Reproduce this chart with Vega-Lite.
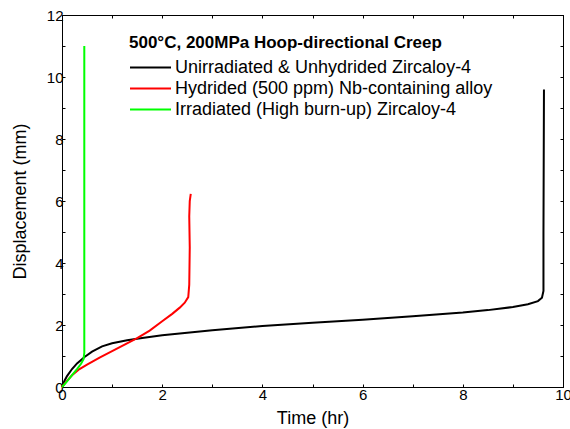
{
  "$schema": "https://vega.github.io/schema/vega-lite/v6.json",
  "autosize": {"type": "none"},
  "padding": {"left": 62, "top": 15, "right": 7, "bottom": 42},
  "width": 501,
  "height": 372,
  "background": "white",
  "config": {
    "view": {"stroke": "black", "strokeWidth": 1},
    "font": "Liberation Sans",
    "axis": {"grid": false, "domainColor": "black", "tickColor": "black", "labelColor": "black", "titleColor": "black", "labelFont": "Liberation Sans", "titleFont": "Liberation Sans", "labelFontSize": 15, "titleFontSize": 18, "titleFontWeight": "normal", "tickSize": -3}
  },
  "data": {"values": [
    {"s": "Unirradiated & Unhydrided Zircaloy-4", "o": 1, "t": 0, "d": 0},
    {"s": "Unirradiated & Unhydrided Zircaloy-4", "o": 2, "t": 0.05, "d": 0.2},
    {"s": "Unirradiated & Unhydrided Zircaloy-4", "o": 3, "t": 0.1, "d": 0.35},
    {"s": "Unirradiated & Unhydrided Zircaloy-4", "o": 4, "t": 0.2, "d": 0.58},
    {"s": "Unirradiated & Unhydrided Zircaloy-4", "o": 5, "t": 0.3, "d": 0.76},
    {"s": "Unirradiated & Unhydrided Zircaloy-4", "o": 6, "t": 0.45, "d": 0.97},
    {"s": "Unirradiated & Unhydrided Zircaloy-4", "o": 7, "t": 0.6, "d": 1.14},
    {"s": "Unirradiated & Unhydrided Zircaloy-4", "o": 8, "t": 0.8, "d": 1.31},
    {"s": "Unirradiated & Unhydrided Zircaloy-4", "o": 9, "t": 1.0, "d": 1.41},
    {"s": "Unirradiated & Unhydrided Zircaloy-4", "o": 10, "t": 1.3, "d": 1.51},
    {"s": "Unirradiated & Unhydrided Zircaloy-4", "o": 11, "t": 1.6, "d": 1.58},
    {"s": "Unirradiated & Unhydrided Zircaloy-4", "o": 12, "t": 2.0, "d": 1.67},
    {"s": "Unirradiated & Unhydrided Zircaloy-4", "o": 13, "t": 3.0, "d": 1.83},
    {"s": "Unirradiated & Unhydrided Zircaloy-4", "o": 14, "t": 4.0, "d": 1.97},
    {"s": "Unirradiated & Unhydrided Zircaloy-4", "o": 15, "t": 5.0, "d": 2.07},
    {"s": "Unirradiated & Unhydrided Zircaloy-4", "o": 16, "t": 6.0, "d": 2.17},
    {"s": "Unirradiated & Unhydrided Zircaloy-4", "o": 17, "t": 7.0, "d": 2.28},
    {"s": "Unirradiated & Unhydrided Zircaloy-4", "o": 18, "t": 8.0, "d": 2.4},
    {"s": "Unirradiated & Unhydrided Zircaloy-4", "o": 19, "t": 8.5, "d": 2.48},
    {"s": "Unirradiated & Unhydrided Zircaloy-4", "o": 20, "t": 9.0, "d": 2.58},
    {"s": "Unirradiated & Unhydrided Zircaloy-4", "o": 21, "t": 9.3, "d": 2.67},
    {"s": "Unirradiated & Unhydrided Zircaloy-4", "o": 22, "t": 9.5, "d": 2.77},
    {"s": "Unirradiated & Unhydrided Zircaloy-4", "o": 23, "t": 9.58, "d": 2.88},
    {"s": "Unirradiated & Unhydrided Zircaloy-4", "o": 24, "t": 9.61, "d": 3.1},
    {"s": "Unirradiated & Unhydrided Zircaloy-4", "o": 25, "t": 9.61, "d": 5.0},
    {"s": "Unirradiated & Unhydrided Zircaloy-4", "o": 26, "t": 9.62, "d": 9.6},
    {"s": "Hydrided (500 ppm) Nb-containing alloy", "o": 1, "t": 0, "d": 0},
    {"s": "Hydrided (500 ppm) Nb-containing alloy", "o": 2, "t": 0.1, "d": 0.2},
    {"s": "Hydrided (500 ppm) Nb-containing alloy", "o": 3, "t": 0.2, "d": 0.38},
    {"s": "Hydrided (500 ppm) Nb-containing alloy", "o": 4, "t": 0.35, "d": 0.58},
    {"s": "Hydrided (500 ppm) Nb-containing alloy", "o": 5, "t": 0.5, "d": 0.72},
    {"s": "Hydrided (500 ppm) Nb-containing alloy", "o": 6, "t": 0.75, "d": 0.95},
    {"s": "Hydrided (500 ppm) Nb-containing alloy", "o": 7, "t": 1.0, "d": 1.16},
    {"s": "Hydrided (500 ppm) Nb-containing alloy", "o": 8, "t": 1.25, "d": 1.37},
    {"s": "Hydrided (500 ppm) Nb-containing alloy", "o": 9, "t": 1.5, "d": 1.58},
    {"s": "Hydrided (500 ppm) Nb-containing alloy", "o": 10, "t": 1.75, "d": 1.82},
    {"s": "Hydrided (500 ppm) Nb-containing alloy", "o": 11, "t": 2.0, "d": 2.12},
    {"s": "Hydrided (500 ppm) Nb-containing alloy", "o": 12, "t": 2.2, "d": 2.36},
    {"s": "Hydrided (500 ppm) Nb-containing alloy", "o": 13, "t": 2.35, "d": 2.56},
    {"s": "Hydrided (500 ppm) Nb-containing alloy", "o": 14, "t": 2.45, "d": 2.72},
    {"s": "Hydrided (500 ppm) Nb-containing alloy", "o": 15, "t": 2.52, "d": 2.9},
    {"s": "Hydrided (500 ppm) Nb-containing alloy", "o": 16, "t": 2.54, "d": 3.3},
    {"s": "Hydrided (500 ppm) Nb-containing alloy", "o": 17, "t": 2.55, "d": 4.5},
    {"s": "Hydrided (500 ppm) Nb-containing alloy", "o": 18, "t": 2.54, "d": 5.5},
    {"s": "Hydrided (500 ppm) Nb-containing alloy", "o": 19, "t": 2.55, "d": 6.0},
    {"s": "Hydrided (500 ppm) Nb-containing alloy", "o": 20, "t": 2.57, "d": 6.23},
    {"s": "Irradiated (High burn-up) Zircaloy-4", "o": 1, "t": 0, "d": 0},
    {"s": "Irradiated (High burn-up) Zircaloy-4", "o": 2, "t": 0.1, "d": 0.18},
    {"s": "Irradiated (High burn-up) Zircaloy-4", "o": 3, "t": 0.2, "d": 0.38},
    {"s": "Irradiated (High burn-up) Zircaloy-4", "o": 4, "t": 0.3, "d": 0.58},
    {"s": "Irradiated (High burn-up) Zircaloy-4", "o": 5, "t": 0.38, "d": 0.75},
    {"s": "Irradiated (High burn-up) Zircaloy-4", "o": 6, "t": 0.43, "d": 0.9},
    {"s": "Irradiated (High burn-up) Zircaloy-4", "o": 7, "t": 0.445, "d": 1.1},
    {"s": "Irradiated (High burn-up) Zircaloy-4", "o": 8, "t": 0.445, "d": 3.0},
    {"s": "Irradiated (High burn-up) Zircaloy-4", "o": 9, "t": 0.445, "d": 11.0}
  ]},
  "layer": [
    {
      "mark": {"type": "line", "strokeWidth": 2},
      "encoding": {
        "x": {"field": "t", "type": "quantitative", "scale": {"domain": [0, 10], "nice": false},
              "axis": {"title": "Time (hr)", "values": [0,1,2,3,4,5,6,7,8,9,10], "labelExpr": "datum.value % 2 == 0 ? datum.label : ''", "labelPadding": 3, "titlePadding": 7, "labelFlush": false, "labelOverlap": false}},
        "y": {"field": "d", "type": "quantitative", "scale": {"domain": [0, 12], "nice": false},
              "axis": {"title": "Displacement (mm)", "values": [0,1,2,3,4,5,6,7,8,9,10,11,12], "labelExpr": "datum.value % 2 == 0 ? datum.label : ''", "labelPadding": 2, "titlePadding": 17, "labelFlush": false, "labelOverlap": false}},
        "color": {"field": "s", "type": "nominal",
                  "scale": {"domain": ["Unirradiated & Unhydrided Zircaloy-4", "Hydrided (500 ppm) Nb-containing alloy", "Irradiated (High burn-up) Zircaloy-4"], "range": ["#000000", "#ff0000", "#00ff00"]},
                  "legend": {"orient": "none", "legendX": 67, "legendY": 20, "title": "500°C, 200MPa  Hoop-directional Creep", "titleFontSize": 17, "titleFontWeight": "bold", "titleColor": "black", "titleFont": "Liberation Sans", "titleLimit": 450, "labelFont": "Liberation Sans", "labelFontSize": 18, "labelColor": "black", "symbolType": "stroke", "symbolSize": 1681, "symbolStrokeWidth": 2, "labelOffset": 3, "clipHeight": 21, "rowPadding": 0, "titlePadding": 5, "padding": 0, "labelLimit": 400}},
        "order": {"field": "o", "type": "quantitative"}
      }
    },
    {
      "mark": {"type": "line", "opacity": 0},
      "encoding": {
        "x": {"field": "t", "type": "quantitative", "scale": {"domain": [0, 10], "nice": false},
              "axis": {"orient": "top", "title": null, "labels": false, "values": [0,1,2,3,4,5,6,7,8,9,10]}},
        "y": {"field": "d", "type": "quantitative", "scale": {"domain": [0, 12], "nice": false},
              "axis": {"orient": "right", "title": null, "labels": false, "values": [0,1,2,3,4,5,6,7,8,9,10,11,12]}},
        "detail": {"field": "s"},
        "order": {"field": "o", "type": "quantitative"}
      }
    }
  ],
  "resolve": {"axis": {"x": "independent", "y": "independent"}}
}
